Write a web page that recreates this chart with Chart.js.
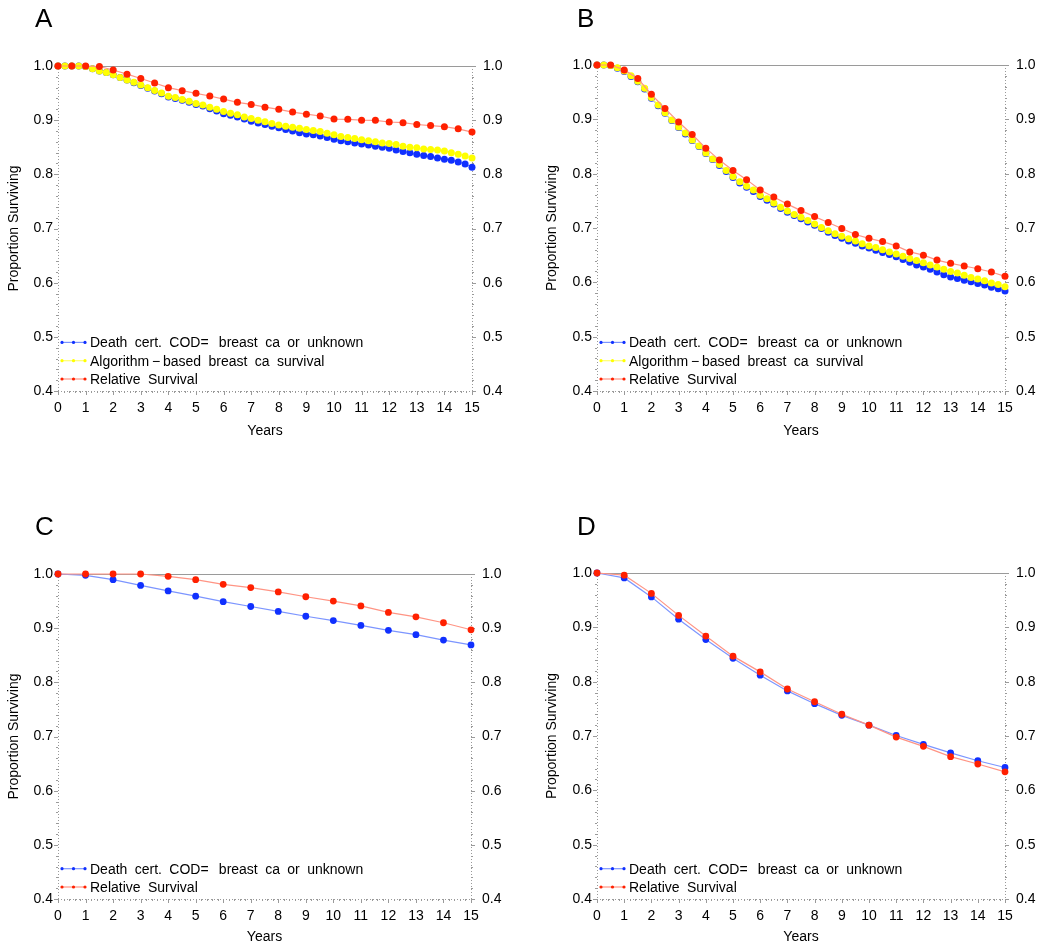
<!DOCTYPE html>
<html>
<head>
<meta charset="utf-8">
<script src="https://cdn.jsdelivr.net/npm/chart.js@4.4.1/dist/chart.umd.min.js"></script>
<style>
  body { margin: 0; background: #fff; }
  #wrap { position: relative; width: 1050px; height: 951px; }
  .panel { position: absolute; }
</style>
</head>
<body>
<div id="wrap">
  <div class="panel" style="left:0;top:0;width:525px;height:450px"><canvas id="chartA"></canvas></div>
  <div class="panel" style="left:525px;top:0;width:525px;height:450px"><canvas id="chartB"></canvas></div>
  <div class="panel" style="left:0;top:475px;width:525px;height:476px"><canvas id="chartC"></canvas></div>
  <div class="panel" style="left:525px;top:475px;width:525px;height:476px"><canvas id="chartD"></canvas></div>
</div>
<script>
// follow-up times
const quarterYears = [];
for (let i = 0; i <= 60; i++) quarterYears.push(i / 4);
const halfYears = [];
for (let i = 0; i <= 30; i++) halfYears.push(i / 2);
const wholeYears = [];
for (let i = 0; i <= 15; i++) wholeYears.push(i);

const yTicks = [0.4, 0.5, 0.6, 0.7, 0.8, 0.9, 1.0];

const labelDeathCert = 'Death cert. COD=\u2009 breast ca or unknown';
const labelAlgorithm = 'Algorithm\u2009\u2212\u2009based breast ca survival';
const labelRelative = 'Relative Survival';

// Panel A
const aDeathCert = [1.0, 1.0, 1.0, 1.0, 0.999, 0.995, 0.991, 0.988, 0.984, 0.979, 0.974, 0.969, 0.964, 0.959, 0.954, 0.949,
  0.943, 0.940, 0.937, 0.933, 0.929, 0.926, 0.921, 0.917, 0.912, 0.909, 0.906, 0.902, 0.898, 0.895, 0.892, 0.889,
  0.886, 0.883, 0.880, 0.877, 0.8745, 0.873, 0.871, 0.868, 0.865, 0.862, 0.860, 0.858, 0.856, 0.854, 0.852, 0.850,
  0.848, 0.845, 0.842, 0.840, 0.837, 0.835, 0.833, 0.830, 0.828, 0.826, 0.823, 0.819, 0.813];
const aAlgorithm = [1.0, 1.0, 1.0, 1.0, 0.999, 0.995, 0.991, 0.988, 0.984, 0.979, 0.974, 0.970, 0.965, 0.960, 0.955, 0.950,
  0.944, 0.942, 0.938, 0.935, 0.931, 0.928, 0.924, 0.920, 0.916, 0.913, 0.910, 0.906, 0.903, 0.900, 0.897, 0.894,
  0.891, 0.889, 0.887, 0.885, 0.883, 0.881, 0.879, 0.876, 0.873, 0.870, 0.868, 0.866, 0.864, 0.862, 0.860, 0.858,
  0.857, 0.855, 0.852, 0.850, 0.849, 0.847, 0.846, 0.845, 0.843, 0.840, 0.837, 0.834, 0.830];
const aRelative = [1.0, 1.0, 1.0, 0.999, 0.9926, 0.985, 0.977, 0.9686, 0.960, 0.9545, 0.9495, 0.9446, 0.939, 0.933, 0.929,
  0.924, 0.920, 0.915, 0.911, 0.9077, 0.902, 0.9015, 0.900, 0.8997, 0.8966, 0.8954, 0.892, 0.890, 0.888, 0.884, 0.878];

// Panel B
const bDeathCert = [1.0, 1.0, 0.999, 0.994, 0.988, 0.979, 0.969, 0.956, 0.939, 0.925, 0.911, 0.898, 0.885, 0.873, 0.861, 0.850,
  0.837, 0.826, 0.815, 0.804, 0.793, 0.783, 0.775, 0.767, 0.758, 0.751, 0.744, 0.736, 0.729, 0.723, 0.717, 0.711,
  0.705, 0.699, 0.692, 0.686, 0.681, 0.676, 0.672, 0.667, 0.663, 0.659, 0.655, 0.651, 0.647, 0.642, 0.637, 0.632,
  0.628, 0.624, 0.619, 0.614, 0.610, 0.607, 0.604, 0.601, 0.598, 0.595, 0.591, 0.588, 0.584];
const bAlgorithm = [1.0, 1.0, 0.999, 0.995, 0.989, 0.980, 0.970, 0.957, 0.940, 0.9265, 0.912, 0.899, 0.886, 0.875, 0.862, 0.851,
  0.838, 0.827, 0.817, 0.806, 0.795, 0.785, 0.777, 0.770, 0.7605, 0.754, 0.746, 0.738, 0.7315, 0.725, 0.720, 0.7136,
  0.7074, 0.701, 0.695, 0.6895, 0.685, 0.680, 0.676, 0.671, 0.667, 0.664, 0.660, 0.656, 0.652, 0.648, 0.644, 0.640,
  0.636, 0.632, 0.628, 0.624, 0.620, 0.617, 0.613, 0.609, 0.606, 0.603, 0.599, 0.596, 0.592];
const bRelative = [1.0, 1.0, 0.991, 0.975, 0.946, 0.920, 0.895, 0.872, 0.847, 0.825, 0.806, 0.789, 0.770, 0.757, 0.744,
  0.732, 0.721, 0.710, 0.699, 0.688, 0.681, 0.675, 0.667, 0.656, 0.650, 0.641, 0.635, 0.630, 0.625, 0.619, 0.611];

// Panel C
const cDeathCert = [1.0, 0.9975, 0.9896, 0.979, 0.9687, 0.959, 0.949, 0.940, 0.931, 0.922, 0.914, 0.905, 0.896, 0.888, 0.878, 0.869];
const cRelative = [1.0, 1.0, 1.0, 1.0, 0.9957, 0.9896, 0.981, 0.975, 0.967, 0.958, 0.950, 0.941, 0.929, 0.921, 0.910, 0.897];

// Panel D
const dDeathCert = [1.0, 0.991, 0.956, 0.915, 0.8775, 0.843, 0.812, 0.783, 0.7595, 0.738, 0.720, 0.701, 0.6845, 0.669, 0.6545, 0.642];
const dRelative = [1.0, 0.996, 0.9625, 0.922, 0.884, 0.847, 0.818, 0.7865, 0.763, 0.740, 0.720, 0.698, 0.681, 0.662, 0.6485, 0.634];

const BLUE = '#1030ff', BLUE_LINE = '#7c95ff';
const YELLOW = '#ffff00', YELLOW_LINE = '#ffff70';
const RED = '#ff2000', RED_LINE = '#ff9484';
const FONT = '"Liberation Sans", Arial, Helvetica, sans-serif';

Chart.defaults.font.family = FONT;
Chart.defaults.font.size = 14;
Chart.defaults.color = '#000';

function series(label, xs, ys, marker, line, order, radius) {
  return {
    label: label,
    data: xs.map((x, i) => ({ x: x, y: ys[i] })),
    borderColor: line,
    backgroundColor: marker,
    pointBackgroundColor: marker,
    pointBorderWidth: 0,
    pointRadius: radius,
    borderWidth: 1.2,
    order: order,
    clip: false
  };
}

// axis frame, minor ticks, titles, panel letter and in-plot legend
const decor = {
  id: 'decor',
  beforeDatasetsDraw(chart, args, opts) {
    const { ctx, chartArea: a, scales } = chart;
    ctx.save();
    ctx.strokeStyle = '#9a9a9a';
    ctx.lineWidth = 1;
    const seg = (x1, y1, x2, y2) => { ctx.beginPath(); ctx.moveTo(x1, y1); ctx.lineTo(x2, y2); ctx.stroke(); };
    seg(a.left, a.top + 0.5, a.right, a.top + 0.5);
    ctx.setLineDash([1, 2]);
    seg(a.left + 0.5, a.top, a.left + 0.5, a.bottom);
    seg(a.right + 0.5, a.top, a.right + 0.5, a.bottom);
    seg(a.left, a.bottom + 0.5, a.right, a.bottom + 0.5);
    ctx.setLineDash([]);
    for (let k = 0; k <= 30; k++) {
      const y = Math.round(scales.y.getPixelForValue(0.4 + k * 0.02)) + 0.5;
      const len = k % 5 === 0 ? 4 : 2;
      seg(a.left - len, y, a.left, y);
      seg(a.right, y, a.right + len, y);
    }
    for (let k = 0; k <= 75; k++) {
      const x = Math.round(scales.x.getPixelForValue(k * 0.2)) + 0.5;
      const len = k % 5 === 0 ? 4 : 2;
      seg(x, a.bottom, x, a.bottom + len);
    }
    ctx.restore();
  },
  afterDraw(chart, args, opts) {
    const { ctx, chartArea: a } = chart;
    ctx.save();
    ctx.fillStyle = '#000';
    ctx.font = '26px ' + FONT;
    ctx.textBaseline = 'alphabetic';
    ctx.fillText(opts.letter, opts.letterX, opts.letterY);

    ctx.font = '14px ' + FONT;
    ctx.textAlign = 'center';
    ctx.textBaseline = 'middle';
    ctx.fillText('Years', (a.left + a.right) / 2, a.bottom + opts.xTitleGap);
    ctx.save();
    ctx.translate(opts.yTitleX, (a.top + a.bottom) / 2);
    ctx.rotate(-Math.PI / 2);
    ctx.fillText('Proportion Surviving', 0, 0);
    ctx.restore();

    // legend, bottom-left inside plot
    const items = chart.data.datasets.slice().sort((p, q) => q.order - p.order);
    const rowH = 18.3;
    ctx.textAlign = 'left';
    if ('wordSpacing' in ctx) ctx.wordSpacing = '3.5px';
    items.forEach((ds, i) => {
      const y = a.bottom - 12 - (items.length - 1 - i) * rowH;
      const x0 = a.left + 4, x1 = a.left + 27;
      ctx.strokeStyle = ds.borderColor;
      ctx.lineWidth = 1.2;
      ctx.beginPath(); ctx.moveTo(x0, y); ctx.lineTo(x1, y); ctx.stroke();
      ctx.fillStyle = ds.pointBackgroundColor;
      [x0, (x0 + x1) / 2, x1].forEach(px => { ctx.beginPath(); ctx.arc(px, y, 1.6, 0, Math.PI * 2); ctx.fill(); });
      ctx.fillStyle = '#000';
      ctx.fillText(ds.label, a.left + 32, y + 1);
    });
    ctx.restore();
  }
};

function makeChart(id, datasets, pad, deco) {
  const fixW = s => { s.width = 40; };
  new Chart(document.getElementById(id), {
    type: 'line',
    data: { datasets: datasets },
    plugins: [decor],
    options: {
      responsive: true,
      maintainAspectRatio: false,
      animation: false,
      layout: { padding: pad },
      plugins: { legend: { display: false }, tooltip: { enabled: false }, decor: deco },
      scales: {
        x: {
          type: 'linear', min: 0, max: 15,
          afterFit: s => { s.height = 40; },
          afterBuildTicks: s => { s.ticks = wholeYears.map(v => ({ value: v })); },
          ticks: { padding: 9, maxRotation: 0, autoSkip: false },
          grid: { display: false, drawTicks: false },
          border: { display: false }
        },
        y: {
          type: 'linear', min: 0.4, max: 1.0, position: 'left',
          afterFit: fixW,
          afterBuildTicks: s => { s.ticks = yTicks.map(v => ({ value: v })); },
          ticks: { padding: 5, callback: v => v.toFixed(1) },
          grid: { display: false, drawTicks: false },
          border: { display: false }
        },
        y2: {
          type: 'linear', min: 0.4, max: 1.0, position: 'right',
          afterFit: fixW,
          afterBuildTicks: s => { s.ticks = yTicks.map(v => ({ value: v })); },
          ticks: { padding: 11, callback: v => v.toFixed(1) },
          grid: { display: false, drawTicks: false },
          border: { display: false }
        }
      }
    }
  });
}

makeChart('chartA', [
  series(labelRelative, halfYears, aRelative, RED, RED_LINE, 1, 3.5),
  series(labelAlgorithm, quarterYears, aAlgorithm, YELLOW, YELLOW_LINE, 2, 3.5),
  series(labelDeathCert, quarterYears, aDeathCert, BLUE, BLUE_LINE, 3, 3.5)
], { left: 18, right: 13, top: 66, bottom: 19 },
  { letter: 'A', letterX: 35, letterY: 27, yTitleX: 14, xTitleGap: 40 });

makeChart('chartB', [
  series(labelRelative, halfYears, bRelative, RED, RED_LINE, 1, 3.5),
  series(labelAlgorithm, quarterYears, bAlgorithm, YELLOW, YELLOW_LINE, 2, 3.5),
  series(labelDeathCert, quarterYears, bDeathCert, BLUE, BLUE_LINE, 3, 3.5)
], { left: 32, right: 5, top: 65, bottom: 19 },
  { letter: 'B', letterX: 52, letterY: 27, yTitleX: 27, xTitleGap: 40 });

makeChart('chartC', [
  series(labelRelative, wholeYears, cRelative, RED, RED_LINE, 1, 3.4),
  series(labelDeathCert, wholeYears, cDeathCert, BLUE, BLUE_LINE, 2, 3.4)
], { left: 18, right: 14, top: 99, bottom: 12 },
  { letter: 'C', letterX: 35, letterY: 60, yTitleX: 14, xTitleGap: 38 });

makeChart('chartD', [
  series(labelRelative, wholeYears, dRelative, RED, RED_LINE, 1, 3.4),
  series(labelDeathCert, wholeYears, dDeathCert, BLUE, BLUE_LINE, 2, 3.4)
], { left: 32, right: 5, top: 98, bottom: 12 },
  { letter: 'D', letterX: 52, letterY: 60, yTitleX: 27, xTitleGap: 38 });
</script>
</body>
</html>
